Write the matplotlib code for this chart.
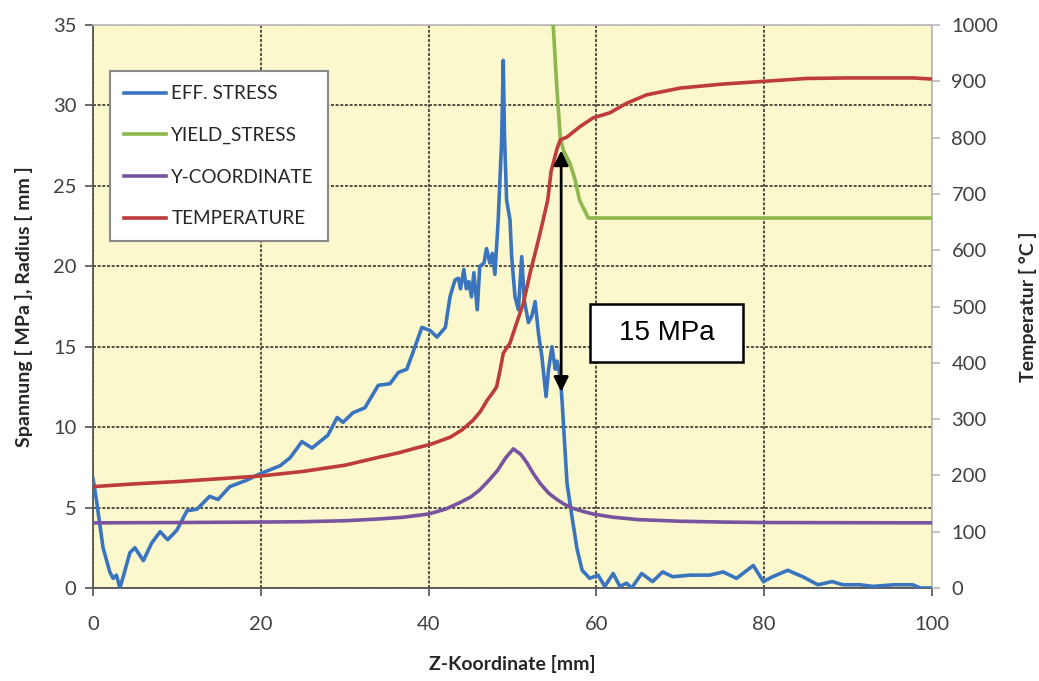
import matplotlib
matplotlib.use("Agg")
import matplotlib.pyplot as plt
from matplotlib.patches import Rectangle
from matplotlib.lines import Line2D

plt.rcParams['font.family'] = ['Lato', 'DejaVu Sans']

# --- data -------------------------------------------------------------
z_eff = [0.0, 0.4, 1.2, 2.0, 2.4, 2.8, 3.2, 3.6, 4.4, 5.0, 6.0, 7.0, 8.0, 8.9,
         10.0, 11.2, 12.4, 13.9, 14.9, 16.3, 18.3, 19.9, 22.3, 23.5, 24.9,
         26.1, 28.0, 29.1, 29.8, 31.0, 32.4, 34.0, 35.4, 36.4, 37.4, 38.1,
         39.2, 40.2, 41.0, 42.0, 42.55, 43.15, 43.55, 43.8, 44.2, 44.5, 44.8,
         45.1, 45.4, 45.8, 46.1, 46.6, 46.9, 47.3, 47.6, 47.9, 48.3, 48.5,
         48.7, 48.9, 49.05, 49.3, 49.7, 49.9, 50.3, 50.7, 51.1, 51.4, 51.9,
         52.3, 52.7, 53.1, 53.5, 54.0, 54.3, 54.7, 55.1, 55.3, 55.7, 55.9,
         56.5, 57.1, 57.7, 58.3, 59.2, 60.2, 61.0, 62.0, 62.8, 63.6, 64.2,
         65.4, 66.7, 67.9, 69.1, 71.2, 73.5, 75.1, 76.7, 78.7, 79.9, 81.0,
         82.8, 84.6, 86.4, 88.1, 89.4, 91.4, 93.0, 95.4, 97.7, 98.6, 100.0]
eff_stress = [6.8, 5.5, 2.5, 1.0, 0.6, 0.8, 0.0, 0.7, 2.2, 2.5, 1.7, 2.8, 3.5,
              3.0, 3.6, 4.8, 4.9, 5.7, 5.5, 6.3, 6.7, 7.1, 7.6, 8.1, 9.1, 8.7,
              9.5, 10.6, 10.3, 10.9, 11.2, 12.6, 12.7, 13.4, 13.6, 14.6, 16.2,
              16.0, 15.6, 16.2, 18.1, 19.15, 19.25, 18.6, 19.8, 18.6, 19.05,
              18.1, 19.6, 17.3, 20.0, 20.2, 21.1, 20.2, 20.8, 19.5, 22.9, 25.4,
              27.7, 32.8, 28.0, 24.1, 22.9, 20.6, 18.1, 17.3, 20.6, 17.9, 16.5,
              16.9, 17.8, 15.8, 14.4, 11.9, 13.6, 15.0, 13.6, 14.1, 13.1, 11.7,
              6.5, 4.4, 2.4, 1.1, 0.6, 0.8, 0.1, 0.9, 0.1, 0.3, 0.0, 0.9, 0.4,
              1.0, 0.7, 0.8, 0.8, 1.0, 0.6, 1.4, 0.4, 0.7, 1.1, 0.7, 0.2, 0.4,
              0.2, 0.2, 0.1, 0.2, 0.2, 0.0, 0.0]

z_yield = [54.85, 55.27, 55.7, 56.06, 56.85, 57.45, 58.0, 59.04, 100.0]
yield_stress = [35.0, 31.2, 28.0, 27.2, 26.4, 25.4, 24.1, 23.0, 23.0]

z_ycoord = [0, 10, 20, 25, 30, 34, 37, 40, 42, 43.7, 45, 46.1, 47.2, 48.2,
            49.2, 50.1, 51, 51.7, 52.5, 53.3, 54.3, 55.3, 56.2, 57.2, 58.5,
            59.6, 62, 65, 70, 75, 80, 90, 100]
y_coord = [4.05, 4.07, 4.1, 4.12, 4.18, 4.29, 4.4, 4.6, 4.9, 5.3, 5.65, 6.1,
           6.7, 7.3, 8.1, 8.65, 8.3, 7.8, 7.1, 6.5, 5.9, 5.5, 5.2, 4.95, 4.75,
           4.6, 4.4, 4.25, 4.15, 4.1, 4.07, 4.06, 4.05]

z_temp = [0, 5, 10, 15, 20, 25, 30, 34, 36.4, 38.6, 40.2, 41.5, 42.6, 44,
          45.3, 46.2, 47.0, 47.6, 48.1, 48.5, 48.9, 49.7, 50.5, 51.3, 52.1,
          52.7, 53.3, 54.2, 54.6, 55.3, 55.7, 56.5, 58, 59.6, 61.6, 63.6, 66,
          70, 75, 80, 85, 90, 97.7, 100]
temperature = [180, 185, 189, 194, 199, 207, 218, 232, 240, 249, 255, 262,
               268, 281, 298, 314, 334, 346, 357, 385, 417, 435, 471, 506, 560,
               595, 631, 689, 740, 780, 796, 801, 819, 835, 844, 861, 876, 888,
               895, 900, 905, 906, 906, 904]

series_labels = ["EFF. STRESS", "YIELD_STRESS", "Y-COORDINATE", "TEMPERATURE"]
x_ticks = [0, 20, 40, 60, 80, 100]
y_ticks = [0, 5, 10, 15, 20, 25, 30, 35]
t_ticks = list(range(0, 1001, 100))

# span of the annotated stress difference (MPa)
arrow_z = 55.8
arrow_low, arrow_high = 12.2, 27.2
arrow_text = "15 MPa"

# --- style ------------------------------------------------------------
c_blue = "#3a74bf"
c_green = "#8cb84c"
c_purple = "#7753a0"
c_red = "#be3c3c"
bg = "#fbf8cd"
lw = 2.6

W, H = 1039, 681
fig = plt.figure(figsize=(W / 100, H / 100), dpi=100)
ax = fig.add_axes([93 / W, (H - 588) / H, 839 / W, 563 / H])
ax.set_facecolor(bg)

ax.plot(z_eff, eff_stress, color=c_blue, lw=lw, zorder=3,
        solid_joinstyle="round")
ax.plot(z_yield, yield_stress, color=c_green, lw=lw, zorder=3)
ax.plot(z_ycoord, y_coord, color=c_purple, lw=lw, zorder=3)

ax.set_xlim(0, 100)
ax.set_ylim(0, 35)
ax.set_xticks(x_ticks)
ax.set_yticks(y_ticks)
ax.grid(True, color="#4f4f44", lw=1.4, linestyle=(0, (1.5, 0.9)), zorder=1)
ax.set_axisbelow(True)

tick_col = "#404040"
ax.tick_params(axis="both", direction="out", length=6, width=1.3,
               colors="#606060", labelcolor=tick_col, labelsize=14.5, pad=6)
ax.tick_params(axis="x", pad=14)
for s in ("left", "bottom"):
    ax.spines[s].set_color("#555555")
    ax.spines[s].set_linewidth(1.3)
for s in ("top", "right"):
    ax.spines[s].set_color("#bdbdbd")
    ax.spines[s].set_linewidth(1.3)

ax.set_xlabel("Z-Koordinate [mm]", fontsize=14, fontweight="bold",
              color="#262626", labelpad=16)
ax.set_ylabel("Spannung [ MPa ], Radius [ mm ]", fontsize=14,
              fontweight="bold", color="#262626", labelpad=14)

ax2 = ax.twinx()
ax2.patch.set_visible(False)
ax2.plot(z_temp, temperature, color=c_red, lw=lw, zorder=3)
ax2.set_ylim(0, 1000)
ax2.set_yticks(t_ticks)
ax2.tick_params(axis="y", direction="out", length=6, width=1.3,
                colors="#bdbdbd", labelcolor=tick_col, labelsize=14.5, pad=8)
for s in ax2.spines.values():
    s.set_visible(False)
ax2.set_ylabel("Temperatur [ °C ]", fontsize=14, fontweight="bold",
               color="#262626", labelpad=15)

# double arrow marking the stress gap
ax2.annotate("", xy=(arrow_z, arrow_low), xytext=(arrow_z, arrow_high),
             xycoords=ax.transData, textcoords=ax.transData,
             arrowprops=dict(arrowstyle="<|-|>", color="black", lw=2.0,
                             mutation_scale=22, shrinkA=0, shrinkB=0),
             zorder=5)

# boxed label
box = Rectangle((59.2, 14.05), 18.3, 3.6, transform=ax.transData,
                facecolor="white", edgecolor="black", lw=1.8, zorder=6)
ax2.add_patch(box)
ax2.text(59.2 + 18.3 / 2, 14.05 + 1.8, arrow_text, transform=ax.transData,
         ha="center", va="center", fontsize=20, family="Liberation Sans",
         color="black", zorder=7)

handles = [Line2D([], [], color=c, lw=lw)
           for c in (c_blue, c_green, c_purple, c_red)]
leg = ax2.legend(handles, series_labels, loc="upper left",
                 bbox_to_anchor=(0.0203, 0.918), borderaxespad=0,
                 fontsize=13.6, frameon=True, fancybox=False,
                 handlelength=2.2, handletextpad=0.3, borderpad=0.75,
                 labelspacing=1.3, labelcolor="#262626")
leg.get_frame().set_edgecolor("#8a8a8a")
leg.get_frame().set_linewidth(1.5)
leg.get_frame().set_facecolor("white")
leg.get_frame().set_alpha(1)
leg.set_zorder(8)

fig.savefig("out.png", dpi=100, facecolor="white")
